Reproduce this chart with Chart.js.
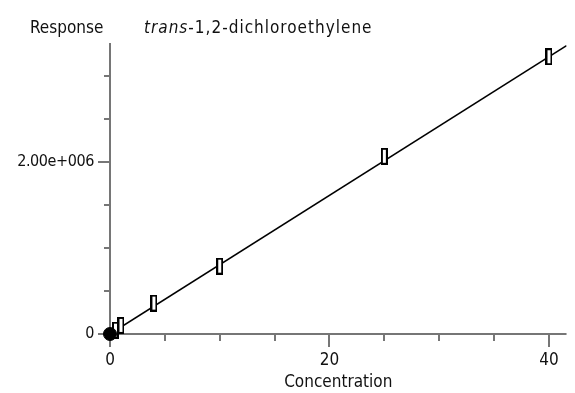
<!DOCTYPE html>
<html>
<head>
<meta charset="utf-8">
<script src="https://cdn.jsdelivr.net/npm/chart.js@4/dist/chart.umd.min.js"></script>
<style>
  body { margin: 0; background: #fff; }
  canvas { display: block; }
</style>
</head>
<body>
<canvas id="calChart" width="575" height="393"></canvas>
<script>
// calibration levels and responses
const concentration = [0.5, 1, 4, 10, 25, 40];
const response = [45000, 100000, 360000, 790000, 2070000, 3230000];
const originX = [0];
const originY = [0];
// fitted line end points
const fitX = [0, 41.6];
const fitY = [0, 3360000];
// tick positions and the ones that carry a label
const xTicks = [0, 5, 10, 15, 20, 25, 30, 35, 40];
const xLabels = { 0: '0', 20: '20', 40: '40' };
const yTicks = [0, 500000, 1000000, 1500000, 2000000, 2500000, 3000000];
const yLabels = { 0: '0', 2000000: '2.00e+006' };

const FONT = "'DejaVu Sans Condensed', 'Liberation Sans Narrow', sans-serif";
const axisColor = '#767676';

// open rectangle marker
const box = document.createElement('canvas');
box.width = 7;
box.height = 17;
const bctx = box.getContext('2d');
bctx.fillStyle = '#fff';
bctx.fillRect(1, 1, 5, 15);
bctx.strokeStyle = '#000';
bctx.lineWidth = 2;
bctx.strokeRect(1, 1, 5, 15);

const axesPlugin = {
    id: 'axes',
    beforeDatasetsDraw(chart) {
        const { ctx, chartArea: a, scales: { x, y } } = chart;
        ctx.save();
        ctx.strokeStyle = axisColor;
        ctx.lineWidth = 2;
        ctx.beginPath();
        ctx.moveTo(a.left, a.top);
        ctx.lineTo(a.left, a.bottom);
        ctx.moveTo(a.left - 1, a.bottom);
        ctx.lineTo(a.right, a.bottom);
        x.ticks.forEach(t => {
            const px = Math.round(x.getPixelForValue(t.value));
            ctx.moveTo(px, a.bottom);
            ctx.lineTo(px, a.bottom + (t.label ? 13 : 7));
        });
        y.ticks.forEach(t => {
            const py = Math.round(y.getPixelForValue(t.value));
            ctx.moveTo(a.left, py);
            ctx.lineTo(a.left - (t.label ? 12 : 6), py);
        });
        ctx.stroke();

        // y tick labels, a little tighter than the x ones
        ctx.fillStyle = '#111';
        ctx.font = `16px ${FONT}`;
        ctx.letterSpacing = '-0.4px';
        ctx.textAlign = 'right';
        ctx.textBaseline = 'middle';
        y.ticks.forEach(t => {
            if (t.label) ctx.fillText(t.label, a.left - 16, y.getPixelForValue(t.value));
        });
        ctx.restore();
    },
    afterDraw(chart) {
        const ctx = chart.ctx;
        ctx.save();
        ctx.fillStyle = '#111';
        ctx.textBaseline = 'alphabetic';
        ctx.font = `17px ${FONT}`;
        ctx.fillText('Response', 30, 33);
        ctx.letterSpacing = '1px';
        ctx.font = `italic 17px ${FONT}`;
        ctx.fillText('trans', 144, 33);
        const w = ctx.measureText('trans').width;
        ctx.font = `17px ${FONT}`;
        ctx.fillText('-1,2-dichloroethylene', 144 + w, 33);
        ctx.restore();
    }
};

const ctx = document.getElementById('calChart').getContext('2d');
new Chart(ctx, {
    type: 'scatter',
    data: {
        datasets: [
            {
                data: concentration.map((c, i) => ({ x: c, y: response[i] })),
                pointStyle: box,
                clip: false,
                order: 1
            },
            {
                data: originX.map((c, i) => ({ x: c, y: originY[i] })),
                pointStyle: 'circle',
                pointRadius: 6.5,
                backgroundColor: '#000',
                borderColor: '#000',
                clip: false,
                order: 0
            },
            {
                data: fitX.map((c, i) => ({ x: c, y: fitY[i] })),
                showLine: true,
                borderColor: '#000',
                borderWidth: 1.6,
                pointRadius: 0,
                order: 2
            }
        ]
    },
    options: {
        responsive: false,
        animation: false,
        layout: { padding: { top: 43, left: 0, right: 0, bottom: 0 } },
        plugins: { legend: { display: false }, tooltip: { enabled: false } },
        scales: {
            x: {
                type: 'linear',
                min: 0,
                max: 41.6,
                grid: { display: false, drawTicks: false },
                border: { display: false },
                afterFit: s => { s.height = 59; },
                afterBuildTicks: s => { s.ticks = xTicks.map(v => ({ value: v })); },
                ticks: {
                    autoSkip: false,
                    maxRotation: 0,
                    padding: 16,
                    color: '#111',
                    font: { family: FONT, size: 17 },
                    callback: v => xLabels[v] || ''
                },
                title: {
                    display: true,
                    text: 'Concentration',
                    color: '#111',
                    padding: 0,
                    font: { family: FONT, size: 17 }
                }
            },
            y: {
                type: 'linear',
                min: 0,
                max: 3390000,
                grid: { display: false, drawTicks: false },
                border: { display: false },
                afterFit: s => { s.width = 110; },
                afterBuildTicks: s => { s.ticks = yTicks.map(v => ({ value: v })); },
                ticks: {
                    display: false,
                    autoSkip: false,
                    callback: v => yLabels[v] || ''
                }
            }
        }
    },
    plugins: [axesPlugin]
});
</script>
</body>
</html>
